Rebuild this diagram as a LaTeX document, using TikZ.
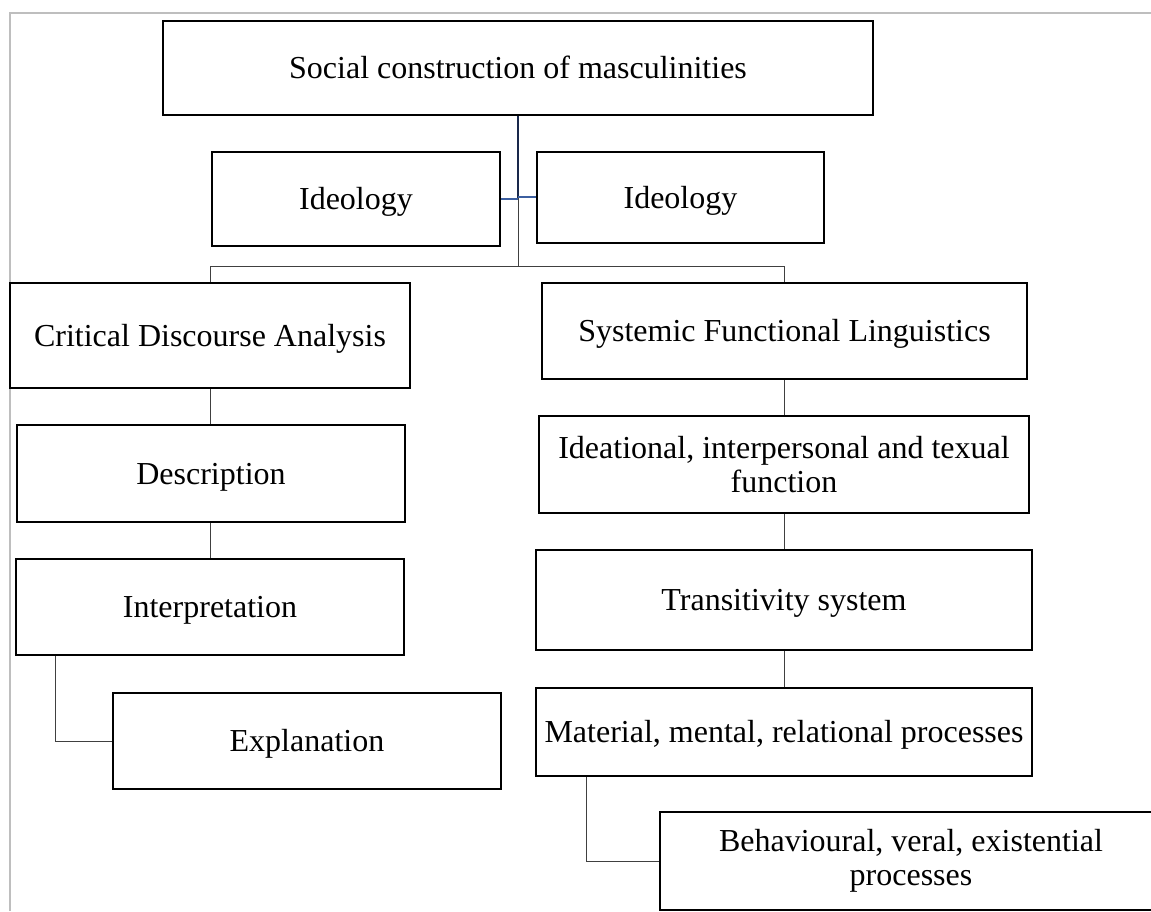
\documentclass[tikz,border=0pt]{standalone}
\usepackage{fontspec}
\setmainfont{Liberation Serif}
\begin{document}
% one unit = one pixel of a 1151 x 911 canvas, y grows downwards
\begin{tikzpicture}[x=0.5pt,y=-0.5pt,
  box/.style={draw=black, line width=1.35pt, inner sep=0pt, fill=white,
              font=\fontsize{16pt}{17pt}\selectfont},
  oneline/.style={text height=10.6pt, text depth=0pt},
  twoline/.style={align=center},
  conn/.style={draw=black!75, line width=0.5pt},
  link/.style={draw={rgb,255:red,60;green,95;blue,160}, line width=1.1pt},
  frame/.style={draw={rgb,255:red,190;green,190;blue,190}, line width=0.8pt}]
\newcommand\boxnode[7]{%
  \node[box,#7, minimum width={(#4-#2)*0.5pt}, minimum height={(#5-#3)*0.5pt}]
    (#1) at ({(#2+#4)/2},{(#3+#5)/2}) {#6};}
\useasboundingbox (0,0) rectangle (1151,911);
\clip (0,0) rectangle (1151,911);

% page frame
\draw[frame] (10,911) -- (10,13) -- (1151,13);

% boxes
\boxnode{top}{163}{21}{873}{115}{Social construction of masculinities}{oneline}
\boxnode{ideoL}{212}{152}{500}{246}{Ideology}{oneline}
\boxnode{ideoR}{537}{152}{824}{243}{Ideology}{oneline}
\boxnode{cda}{10}{283}{410}{388}{Critical Discourse Analysis}{oneline}
\boxnode{sfl}{542}{283}{1027}{379}{Systemic Functional Linguistics}{oneline}
\boxnode{desc}{17}{425}{405}{522}{Description}{oneline}
\boxnode{ideat}{539}{416}{1029}{513}{Ideational, interpersonal and texual\\function}{twoline}
\boxnode{interp}{16}{559}{404}{655}{Interpretation}{oneline}
\boxnode{trans}{536}{550}{1032}{650}{Transitivity system}{oneline}
\boxnode{expl}{113}{693}{501}{789}{Explanation}{oneline}
\boxnode{mat}{536}{688}{1032}{776}{Material, mental, relational processes}{oneline}
\boxnode{beh}{660}{812}{1162}{910}{Behavioural, veral, existential\\processes}{twoline}

% trunk and bus
\coordinate (jt) at (518,198);
\coordinate (bus) at (518,266);
\draw[draw={rgb,255:red,25;green,40;blue,75}, line width=0.55pt] (top.south) -- (jt);
\draw[conn] (jt) -- (bus);
\draw[link] (ideoL.east |- 0,199) -- (518,199);
\draw[link] (518,197) -- (ideoR.west |- 0,197);
\draw[conn] (cda.north -| 210,0) -- (210,266) -- (784,266) -- (sfl.north -| 784,0);

% left column
\draw[conn] (cda.south -| 210,0) -- (desc.north -| 210,0);
\draw[conn] (desc.south -| 210,0) -- (interp.north -| 210,0);
\draw[conn] (interp.south -| 55,0) |- (expl.west);

% right column
\draw[conn] (sfl.south -| 784,0) -- (ideat.north -| 784,0);
\draw[conn] (ideat.south -| 784,0) -- (trans.north -| 784,0);
\draw[conn] (trans.south -| 784,0) -- (mat.north -| 784,0);
\draw[conn] (mat.south -| 586,0) |- (beh.west);
\end{tikzpicture}
\end{document}
